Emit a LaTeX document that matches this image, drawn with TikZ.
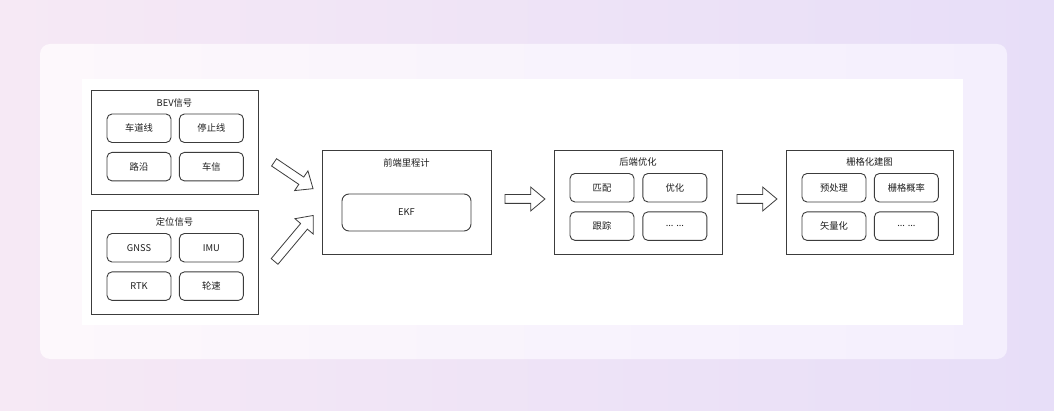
\documentclass[tikz,border=0pt]{standalone}
\usepackage{fontspec}
\setmainfont{Noto Sans CJK SC}
\usepackage{tikz}
\usetikzlibrary{positioning,shapes.arrows,calc}

\definecolor{bgl}{HTML}{F6E9F5}
\definecolor{bgr}{HTML}{E7DEF8}
\definecolor{pnll}{HTML}{FDF8FC}
\definecolor{pnlr}{HTML}{F4EFFD}
\definecolor{linec}{HTML}{3C3C3C}
\definecolor{txt}{HTML}{1E1E1E}

\begin{document}
\begin{tikzpicture}[
    x=1pt, y=-1pt,
    font=\fontsize{9.3}{11}\selectfont, text=txt,
    panel/.style={draw=linec, line width=0.9pt, minimum width=167pt,
      minimum height=104pt, inner sep=0pt},
    ttl/.style={inner sep=0pt},
    item/.style={draw=linec, line width=0.9pt, rounded corners=5pt,
      minimum width=64pt, minimum height=28.5pt, inner sep=0pt},
    fat/.style={single arrow, draw=linec, fill=white, line width=0.8pt,
      single arrow head extend=7.5pt, single arrow tip angle=80,
      inner xsep=0pt, inner ysep=4pt, anchor=tip},
  ]
    \useasboundingbox (0,0) rectangle (1054,411);
    \shade[left color=bgl, right color=bgr] (0,0) rectangle (1054,411);
    \shade[left color=pnll, right color=pnlr, rounded corners=10pt]
      (40,44) rectangle (1007,359);
    \fill[white] (82,79) rectangle (963,325);

    % inputs
    \node[panel] (bev) at (174.5,142.5) {};
    \node[ttl] (bevt) at ([yshift=-12.5pt]bev.north) {BEV信号};
    \node[item, anchor=north west] (lane) at ([xshift=16pt,yshift=-23.5pt]bev.north west) {车道线};
    \node[item, right=7.5pt of lane] (stopline) {停止线};
    \node[item, below=9pt of lane] (curb) {路沿};
    \node[item, right=7.5pt of curb] (tsign) {车信};

    \node[panel] (loc) at (174.5,262) {};
    \node[ttl] (loct) at ([yshift=-12.5pt]loc.north) {定位信号};
    \node[item, anchor=north west] (gnss) at ([xshift=16pt,yshift=-23.5pt]loc.north west) {GNSS};
    \node[item, right=7.5pt of gnss] (imu) {IMU};
    \node[item, below=9pt of gnss] (rtk) {RTK};
    \node[item, right=7.5pt of rtk] (wheel) {轮速};

    % front end
    \node[panel, minimum width=169pt] (front) at (406.5,202) {};
    \node[ttl] (frontt) at ([yshift=-13.5pt]front.north) {前端里程计};
    \node[item, rounded corners=7pt, minimum width=129pt, minimum height=37pt]
      (ekf) at ([yshift=-10.5pt]front.center) {EKF};

    % back end
    \node[panel, minimum width=168pt] (back) at (638,202) {};
    \node[ttl] (backt) at ([yshift=-12.5pt]back.north) {后端优化};
    \node[item, anchor=north west] (match) at ([xshift=16pt,yshift=-23.5pt]back.north west) {匹配};
    \node[item, right=8pt of match] (optim) {优化};
    \node[item, below=9pt of match] (track) {跟踪};
    \node[item, right=8pt of track] (bdots) {... ...};

    % mapping
    \node[panel] (grid) at (869.5,202) {};
    \node[ttl] (gridt) at ([yshift=-12.5pt]grid.north) {栅格化建图};
    \node[item, anchor=north west] (prep) at ([xshift=16pt,yshift=-23.5pt]grid.north west) {预处理};
    \node[item, right=7.5pt of prep] (prob) {栅格概率};
    \node[item, below=9pt of prep] (vect) {矢量化};
    \node[item, right=7.5pt of vect] (gdots) {... ...};

    % block arrows
    \node[fat, minimum height=47pt, rotate=-34] (arrA) at ([xshift=-8pt,yshift=13pt]front.west) {};
    \node[fat, minimum height=60pt, rotate=50] (arrB) at ([xshift=-8pt,yshift=-13pt]front.west) {};
    \node[fat, minimum height=40pt] (arrC) at ([xshift=-8pt,yshift=3pt]back.west) {};
    \node[fat, minimum height=40pt] (arrD) at ([xshift=-8pt,yshift=3pt]grid.west) {};
  \end{tikzpicture}
\end{document}
